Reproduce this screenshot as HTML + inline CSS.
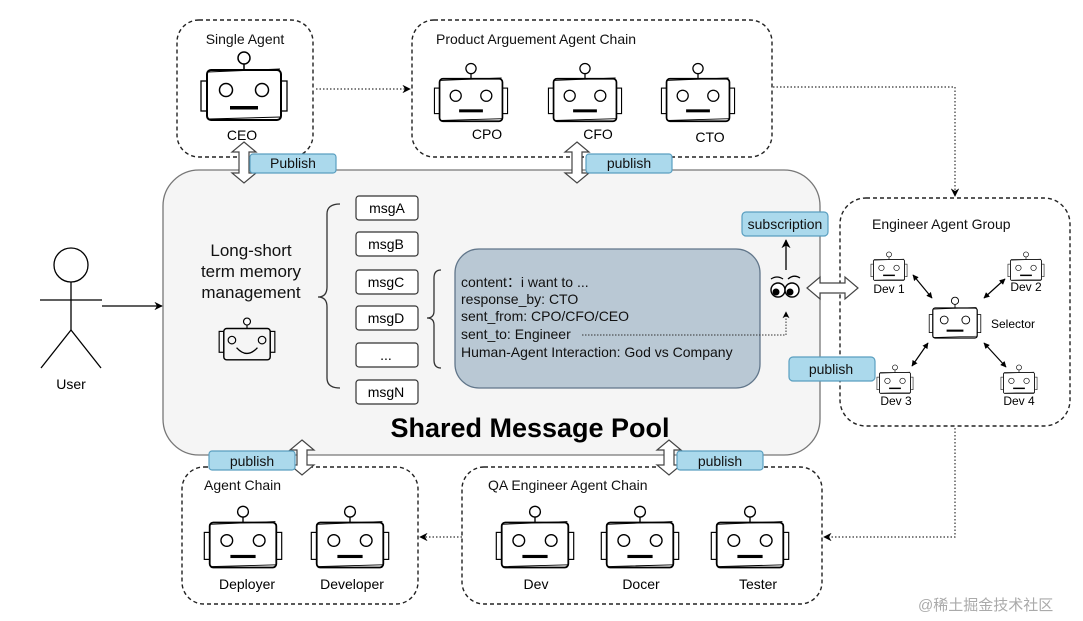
<!DOCTYPE html>
<html><head><meta charset="utf-8"><style>
html,body{margin:0;padding:0;background:#fff;}
svg{display:block;font-family:"Liberation Sans",Arial,sans-serif;}
</style></head><body>
<svg width="1083" height="621" viewBox="0 0 1083 621" xmlns="http://www.w3.org/2000/svg">
<defs>
<g id="rb">
<line x1="0" y1="-31" x2="0" y2="-25" stroke="#000" stroke-width="1.5"/>
<circle cx="0" cy="-37" r="6" fill="#fff" stroke="#000" stroke-width="1.5"/>
<rect x="-43" y="-14" width="6" height="30" fill="none" stroke="#000" stroke-width="1.3"/>
<rect x="37" y="-14" width="6" height="30" fill="none" stroke="#000" stroke-width="1.3"/>
<rect x="-37" y="-25" width="74" height="50" rx="4" fill="#fff" stroke="#000" stroke-width="2"/>
<path d="M-36 -23 L36 -26 M-35 24 L37 22" stroke="#000" stroke-width="1" fill="none"/>
<circle cx="-18" cy="-5" r="6.5" fill="none" stroke="#000" stroke-width="1.5"/>
<circle cx="18" cy="-5" r="6.5" fill="none" stroke="#000" stroke-width="1.5"/>
<rect x="-14" y="11" width="28" height="3.5" fill="#000"/>
</g>
<marker id="ah" viewBox="0 0 10 10" refX="9" refY="5" markerWidth="7" markerHeight="7" orient="auto-start-reverse"><path d="M0 0 L10 5 L0 10 L3 5z" fill="#000"/></marker>
<marker id="ah2" viewBox="0 0 10 10" refX="9" refY="5" markerWidth="5" markerHeight="5" orient="auto-start-reverse"><path d="M0 0 L10 5 L0 10 z" fill="#000"/></marker>
</defs>

<!-- dashed group boxes -->
<g fill="none" stroke="#222" stroke-width="1.4" stroke-dasharray="4,3">
<rect x="177" y="20" width="136" height="137" rx="22"/>
<rect x="412" y="20" width="360" height="137" rx="22"/>
<rect x="840" y="198" width="230" height="228" rx="26"/>
<rect x="182" y="467" width="236" height="137" rx="22"/>
<rect x="462" y="467" width="360" height="137" rx="22"/>
</g>

<!-- shared pool -->
<rect x="163" y="170" width="657" height="285" rx="36" fill="#f5f5f5" stroke="#777" stroke-width="1.3"/>

<!-- group titles -->
<g font-size="14" fill="#111">
<text x="245" y="44" text-anchor="middle">Single Agent</text>
<text x="436" y="44">Product Arguement Agent Chain</text>
<text x="872" y="229">Engineer Agent Group</text>
<text x="204" y="490">Agent Chain</text>
<text x="488" y="490">QA Engineer Agent Chain</text>
</g>

<!-- robots -->
<use href="#rb" transform="translate(244,95)"/>
<text x="242" y="140" font-size="14" text-anchor="middle">CEO</text>
<use href="#rb" transform="translate(471,100) scale(0.85)"/>
<use href="#rb" transform="translate(585,100) scale(0.85)"/>
<use href="#rb" transform="translate(698,100) scale(0.85)"/>
<g font-size="14" text-anchor="middle">
<text x="487" y="139">CPO</text><text x="598" y="139">CFO</text><text x="710" y="142">CTO</text>
</g>
<use href="#rb" transform="translate(243,545) scale(0.9)"/>
<use href="#rb" transform="translate(350,545) scale(0.9)"/>
<use href="#rb" transform="translate(535,545) scale(0.9)"/>
<use href="#rb" transform="translate(640,545) scale(0.9)"/>
<use href="#rb" transform="translate(750,545) scale(0.9)"/>
<g font-size="14" text-anchor="middle">
<text x="247" y="589">Deployer</text><text x="352" y="589">Developer</text>
<text x="536" y="589">Dev</text><text x="641" y="589">Docer</text><text x="758" y="589">Tester</text>
</g>

<!-- engineer group robots -->
<use href="#rb" transform="translate(889,270) scale(0.42)"/>
<use href="#rb" transform="translate(1026,270) scale(0.42)"/>
<use href="#rb" transform="translate(955,323) scale(0.6)"/>
<use href="#rb" transform="translate(895,383) scale(0.42)"/>
<use href="#rb" transform="translate(1019,383) scale(0.42)"/>
<g font-size="12" text-anchor="middle">
<text x="889" y="293">Dev 1</text><text x="1026" y="291">Dev 2</text>
<text x="1013" y="328">Selector</text>
<text x="896" y="405">Dev 3</text><text x="1019" y="405">Dev 4</text>
</g>
<g stroke="#000" stroke-width="1.2" marker-start="url(#ah2)" marker-end="url(#ah2)">
<line x1="913" y1="275" x2="932" y2="298"/>
<line x1="1005" y1="279" x2="984" y2="298"/>
<line x1="928" y1="343" x2="912" y2="366"/>
<line x1="984" y1="343" x2="1006" y2="367"/>
</g>

<!-- memory robot -->
<g transform="translate(247,343) scale(0.58)">
<line x1="0" y1="-31" x2="0" y2="-25" stroke="#000" stroke-width="2"/>
<circle cx="0" cy="-37" r="6" fill="#fff" stroke="#000" stroke-width="2"/>
<rect x="-48" y="-20" width="8" height="36" fill="none" stroke="#000" stroke-width="2"/>
<rect x="40" y="-20" width="8" height="36" fill="none" stroke="#000" stroke-width="2"/>
<rect x="-40" y="-25" width="80" height="54" rx="5" fill="none" stroke="#000" stroke-width="2.5"/>
<circle cx="-26" cy="-5" r="6.5" fill="none" stroke="#000" stroke-width="2"/>
<circle cx="26" cy="-5" r="6.5" fill="none" stroke="#000" stroke-width="2"/>
<path d="M-18 8 Q0 28 18 8" fill="none" stroke="#000" stroke-width="2.2"/>
</g>

<!-- memory text -->
<g font-size="17" text-anchor="middle" fill="#111">
<text x="251" y="256">Long-short</text>
<text x="251" y="277">term memory</text>
<text x="251" y="298">management</text>
</g>

<!-- braces -->
<path d="M340 204 Q327 204 327 214 L327 287 Q327 297 318 297 Q327 297 327 307 L327 378 Q327 388 340 388" fill="none" stroke="#333" stroke-width="1.3"/>
<path d="M441 270 Q434 270 434 278 L434 311 Q434 318 427 318 Q434 318 434 325 L434 360 Q434 368 441 368" fill="none" stroke="#333" stroke-width="1.3"/>

<!-- msg boxes -->
<g fill="#fff" stroke="#333" stroke-width="1.2">
<rect x="356" y="196" width="62" height="24" rx="3"/>
<rect x="356" y="232" width="62" height="24" rx="3"/>
<rect x="356" y="270" width="62" height="24" rx="3"/>
<rect x="356" y="306" width="62" height="24" rx="3"/>
<rect x="356" y="343" width="62" height="24" rx="3"/>
<rect x="356" y="380" width="62" height="24" rx="3"/>
</g>
<g font-size="14" text-anchor="middle">
<text x="387" y="213">msgA</text><text x="386" y="249">msgB</text><text x="386" y="287">msgC</text>
<text x="386" y="323">msgD</text><text x="386" y="360">...</text><text x="386" y="397">msgN</text>
</g>

<!-- message details -->
<rect x="455" y="249" width="305" height="139" rx="24" fill="#b9c8d4" stroke="#61768a" stroke-width="1.3"/>
<g font-size="14" fill="#111">
<text x="461" y="287">content：i want to ...</text>
<text x="461" y="304">response_by: CTO</text>
<text x="461" y="321">sent_from: CPO/CFO/CEO</text>
<text x="461" y="339">sent_to: Engineer</text>
<text x="461" y="357">Human-Agent Interaction: God vs Company</text>
</g>
<path d="M582 335 L786 335 L786 312" fill="none" stroke="#333" stroke-width="1" stroke-dasharray="1.5,1.5" marker-end="url(#ah)"/>

<!-- eyes -->
<g stroke="#000" stroke-width="1.4" fill="#fff">
<circle cx="778" cy="290" r="7"/><circle cx="792" cy="290" r="7"/>
</g>
<circle cx="776" cy="292" r="3.5"/><circle cx="790" cy="292" r="3.5"/>
<path d="M771 279 Q777 275 783 279 M788 279 Q794 274 800 278" fill="none" stroke="#000" stroke-width="1.3"/>
<line x1="786" y1="270" x2="786" y2="240" stroke="#000" stroke-width="1.3" marker-end="url(#ah)"/>

<!-- shared pool title -->
<text x="530" y="437" font-size="27" font-weight="bold" text-anchor="middle">Shared Message Pool</text>

<!-- hollow double arrows -->
<g fill="#fff" stroke="#444" stroke-width="1.2">
<path d="M244 142 L256 152 L249 152 L249 173 L256 173 L244 183 L232 173 L239 173 L239 152 L232 152 Z"/>
<path d="M577 142 L589 152 L582 152 L582 173 L589 173 L577 183 L565 173 L572 173 L572 152 L565 152 Z"/>
<path d="M302 440 L314 450 L307 450 L307 465 L314 465 L302 475 L290 465 L297 465 L297 450 L290 450 Z"/>
<path d="M669 440 L681 450 L674 450 L674 465 L681 465 L669 475 L657 465 L664 465 L664 450 L657 450 Z"/>
<path d="M807 288 L820 277 L820 283 L845 283 L845 277 L858 288 L845 299 L845 293 L820 293 L820 299 Z"/>
</g>

<!-- publish labels -->
<g fill="#abd9ec" stroke="#5a9fc0" stroke-width="1.2">
<rect x="250" y="154" width="86" height="19" rx="3"/>
<rect x="586" y="154" width="86" height="19" rx="3"/>
<rect x="209" y="451" width="86" height="19" rx="3"/>
<rect x="677" y="451" width="86" height="19" rx="3"/>
<rect x="789" y="357" width="86" height="24" rx="4"/>
<rect x="742" y="212" width="86" height="24" rx="4"/>
</g>
<g font-size="14" text-anchor="middle" fill="#111">
<text x="293" y="168">Publish</text><text x="629" y="168">publish</text>
<text x="252" y="466">publish</text><text x="720" y="466">publish</text>
<text x="831" y="374">publish</text><text x="785" y="229">subscription</text>
</g>

<!-- user -->
<g stroke="#000" stroke-width="1.3" fill="none">
<circle cx="71" cy="265" r="17"/>
<line x1="71" y1="282" x2="71" y2="330"/>
<line x1="40" y1="300" x2="102" y2="300"/>
<line x1="71" y1="330" x2="41" y2="368"/>
<line x1="71" y1="330" x2="101" y2="368"/>
</g>
<text x="71" y="389" font-size="14" text-anchor="middle">User</text>
<line x1="102" y1="306" x2="162" y2="306" stroke="#000" stroke-width="1.2" marker-end="url(#ah)"/>

<!-- dotted flows -->
<g fill="none" stroke="#333" stroke-width="1.2" stroke-dasharray="1.5,2" marker-end="url(#ah)">
<path d="M316 89 L410 89"/>
<path d="M773 87 L955 87 L955 196"/>
<path d="M955 428 L955 537 L824 537"/>
<path d="M462 537 L420 537"/>
</g>

<text x="918" y="610" font-size="15" fill="#aaa" font-family="'Liberation Sans','Noto Sans CJK SC',sans-serif">@稀土掘金技术社区</text>
</svg>
</body></html>
